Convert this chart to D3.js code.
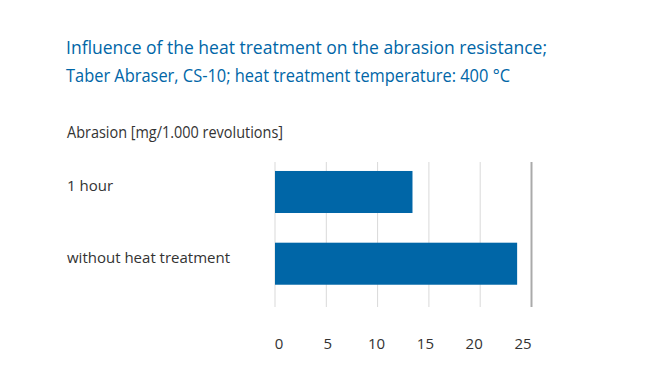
<!DOCTYPE html>
<html>
<head>
<meta charset="utf-8">
<script src="https://cdn.jsdelivr.net/npm/d3@7"></script>
<style>
  body { margin: 0; background: #fff; }
  svg text { font-family: "Open Sans", "Noto Sans", sans-serif; }
</style>
</head>
<body>
<div id="root"></div>
<script>
const titleLines = ["Influence of the heat treatment on the abrasion resistance;",
                    "Taber Abraser, CS-10; heat treatment temperature: 400 °C"];
const axisTitle = "Abrasion [mg/1.000 revolutions]";
const categories = ["1 hour", "without heat treatment"];
const values = [13.4, 23.6];
const ticks = [0, 5, 10, 15, 20, 25];

const width = 650, height = 392;
const blue = "#0066a7";

const svg = d3.select("#root").append("svg")
  .attr("width", width)
  .attr("height", height);

// title
svg.append("g").selectAll("text")
  .data(titleLines)
  .enter().append("text")
  .attr("x", 66)
  .attr("y", (d, i) => 54 + i * 28)
  .attr("fill", blue)
  .attr("font-size", "19px")
  .attr("textLength", (d, i) => i == 0 ? 481 : 444)
  .attr("lengthAdjust", "spacingAndGlyphs")
  .text(d => d);

svg.append("text")
  .attr("x", 67)
  .attr("y", 138)
  .attr("fill", "#333")
  .attr("font-size", "15.5px")
  .attr("textLength", 216)
  .attr("lengthAdjust", "spacingAndGlyphs")
  .text(axisTitle);

const x = d3.scaleLinear().domain([0, 25]).range([275, 531.5]);
// tick labels in the original sit slightly off the grid lines
const xLabel = d3.scaleLinear().domain([0, 25]).range([279, 523]);
const y = d3.scaleBand().domain(categories).range([163.8, 291.9]).paddingInner(0.414).paddingOuter(0.1);

// grid
svg.append("g").selectAll("line")
  .data(ticks)
  .enter().append("line")
  .attr("x1", d => x(d)).attr("x2", d => x(d))
  .attr("y1", 162).attr("y2", 307)
  .attr("stroke", d => d == 25 ? "#aaa" : "#d9d9d9")
  .attr("stroke-width", d => d == 25 ? 2 : 1);

// bars
svg.append("g").selectAll("rect")
  .data(values)
  .enter().append("rect")
  .attr("x", x(0))
  .attr("y", (d, i) => y(categories[i]))
  .attr("width", d => x(d) - x(0))
  .attr("height", y.bandwidth())
  .attr("fill", blue);

// category labels
svg.append("g").selectAll("text")
  .data(categories)
  .enter().append("text")
  .attr("x", 67)
  .attr("y", d => y(d) + y.bandwidth() / 2 - 1)
  .attr("fill", "#333")
  .attr("font-size", "15px")
  .text(d => d);

// tick labels
svg.append("g").selectAll("text")
  .data(ticks)
  .enter().append("text")
  .attr("x", d => xLabel(d))
  .attr("y", 349)
  .attr("text-anchor", "middle")
  .attr("fill", "#333")
  .attr("font-size", "15px")
  .text(d => d);
</script>
</body>
</html>
